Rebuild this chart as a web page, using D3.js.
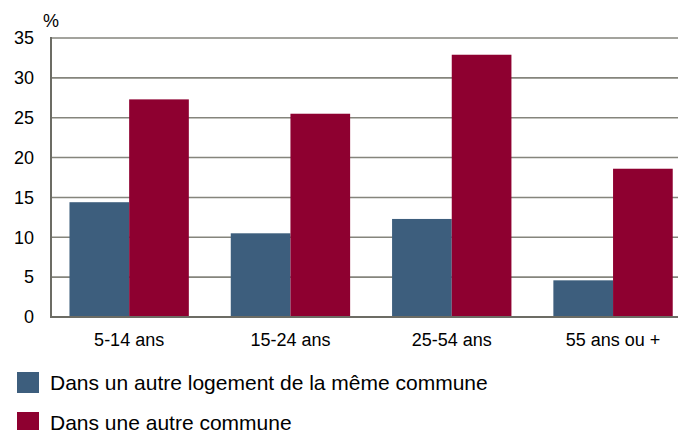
<!DOCTYPE html>
<html>
<head>
<meta charset="utf-8">
<script src="https://cdn.jsdelivr.net/npm/d3@7"></script>
<style>
  body { margin: 0; background: #fff; }
  svg { display: block; font-family: "Liberation Sans", Arial, sans-serif; }
</style>
</head>
<body>
<div id="chart"></div>
<script>
// data
const categories = ["5-14 ans", "15-24 ans", "25-54 ans", "55 ans ou +"];
const seriesNames = ["Dans un autre logement de la même commune", "Dans une autre commune"];
const sameCommune = [14.4, 10.5, 12.3, 4.6];
const otherCommune = [27.3, 25.5, 32.9, 18.6];
const yTicks = [0, 5, 10, 15, 20, 25, 30, 35];
const colors = ["#3d5e7d", "#8e0030"];

const width = 678, height = 430;

let svg = d3.select("#chart").append("svg")
    .attr("width", width)
    .attr("height", height);

// scales
let x = d3.scaleBand()
    .domain(categories)
    .range([48.5, 693.7])
    .paddingInner(0.26)
    .paddingOuter(0.13);

let xSub = d3.scaleBand()
    .domain([0, 1])
    .range([0, x.bandwidth()]);

let y = d3.scaleLinear()
    .domain([0, 35])
    .range([317, 38]);

// gridlines
svg.append("g")
    .selectAll("line")
    .data(yTicks.filter(d => d > 0))
    .enter()
    .append("line")
    .attr("x1", 51)
    .attr("x2", width)
    .attr("y1", d => y(d))
    .attr("y2", d => y(d))
    .attr("stroke", "#85857c")
    .attr("stroke-width", 1.6);

// y axis labels
let yAxis = d3.axisLeft(y)
    .tickValues(yTicks)
    .tickSize(0)
    .tickPadding(17);

let yg = svg.append("g")
    .attr("transform", "translate(51,0)")
    .call(yAxis);
yg.select(".domain").remove();
yg.selectAll("text")
    .attr("font-size", 18)
    .attr("font-family", "Liberation Sans, Arial, sans-serif")
    .attr("fill", "#000");

svg.append("text")
    .attr("x", 43)
    .attr("y", 27)
    .attr("font-size", 18)
    .text("%");

// bars
let rows = categories.map((c, i) => ({key: c, values: [sameCommune[i], otherCommune[i]]}));

let groups = svg.selectAll(".group")
    .data(rows)
    .enter()
    .append("g")
    .attr("class", "group")
    .attr("transform", d => "translate(" + x(d.key) + ",0)");

groups.selectAll("rect")
    .data(d => d.values.map((v, j) => ({j: j, v: v})))
    .enter()
    .append("rect")
    .attr("x", d => xSub(d.j))
    .attr("width", xSub.bandwidth())
    .attr("y", d => y(d.v))
    .attr("height", d => y(0) - y(d.v))
    .attr("fill", d => colors[d.j]);

// axis lines
svg.append("line")
    .attr("x1", 51).attr("x2", 51)
    .attr("y1", y(35) - 1).attr("y2", y(0) + 1)
    .attr("stroke", "#6c6c64")
    .attr("stroke-width", 2);

svg.append("line")
    .attr("x1", 50).attr("x2", width)
    .attr("y1", y(0)).attr("y2", y(0))
    .attr("stroke", "#6c6c64")
    .attr("stroke-width", 2);

// x labels
let xAxis = d3.axisBottom(x)
    .tickSize(0)
    .tickPadding(16);

let xg = svg.append("g")
    .attr("transform", "translate(0," + y(0) + ")")
    .call(xAxis);
xg.select(".domain").remove();
xg.selectAll("text")
    .attr("font-size", 18)
    .attr("font-family", "Liberation Sans, Arial, sans-serif")
    .attr("fill", "#000");

// legend
let legend = svg.selectAll(".legend")
    .data(seriesNames)
    .enter()
    .append("g")
    .attr("class", "legend")
    .attr("transform", (d, i) => "translate(17," + (372 + i * 40) + ")");

legend.append("rect")
    .attr("width", 22)
    .attr("height", 21)
    .attr("fill", (d, i) => colors[i]);

legend.append("text")
    .attr("x", 33)
    .attr("y", 18)
    .attr("font-size", 21)
    .attr("fill", "#000")
    .text(d => d);
</script>
</body>
</html>
